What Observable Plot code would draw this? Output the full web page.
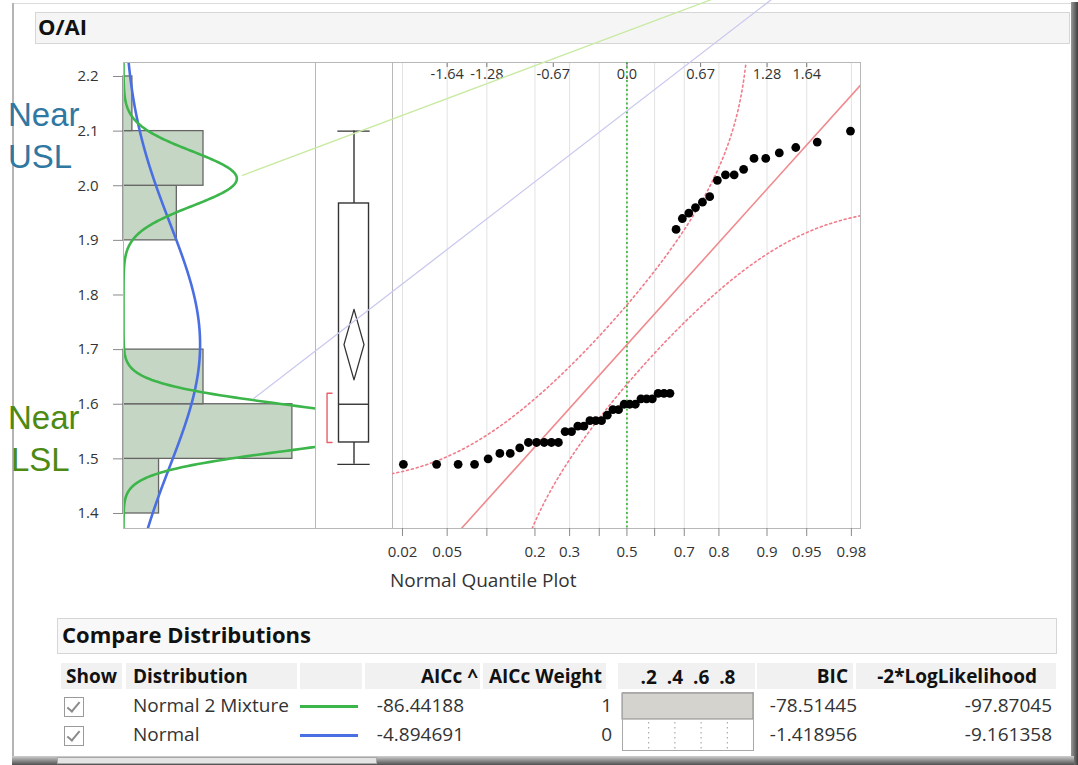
<!DOCTYPE html>
<html><head><meta charset="utf-8">
<script src="https://cdn.jsdelivr.net/npm/d3@7"></script>
<script src="https://cdn.jsdelivr.net/npm/@observablehq/plot@0.6"></script>
<style>
html,body{margin:0;padding:0;background:#fff;}
body{width:1078px;height:765px;position:relative;overflow:hidden;font-family:"Open Sans",sans-serif;color:#333;}
.abs{position:absolute;}
.plotwrap svg{max-width:none;}
</style></head><body>
<script>
// ---------------- data ----------------
const values = [1.49,1.49,1.49,1.49,1.50,1.51,1.51,1.52,1.53,1.53,1.53,1.53,1.53,1.55,1.55,1.56,1.56,1.57,1.57,1.57,1.58,1.59,1.59,1.60,1.60,1.60,1.61,1.61,1.61,1.62,1.62,1.62,
                1.92,1.94,1.95,1.96,1.97,1.98,2.01,2.02,2.02,2.03,2.05,2.05,2.06,2.07,2.08,2.10];
const binEdges = [1.4,1.5,1.6,1.7,1.8,1.9,2.0,2.1,2.2];
const yTicks = [1.4,1.5,1.6,1.7,1.8,1.9,2.0,2.1,2.2];
const probTicks  = [0.02,0.05,0.1,0.2,0.3,0.4,0.5,0.6,0.7,0.8,0.9,0.95,0.98];
const probLabels = ["0.02","0.05","","0.2","0.3","","0.5","","0.7","0.8","0.9","0.95","0.98"];
const zTicks  = [-1.645,-1.282,-0.674,0,0.674,1.282,1.645];
const zLabels = ["-1.64","-1.28","-0.67","0.0","0.67","1.28","1.64"];
const mixW = [0.667,0.333], mixMu = [1.557,2.013], mixSd = [0.041,0.05];
const bandD = 0.128;      // Lilliefors band half-width (probability)
const tCrit = 2.012;      // t(0.975, 47)
const distNames = ["Normal 2 Mixture","Normal"];
const distColors = ["#3cb54a","#4a6fe3"];
const aicc = [-86.44188,-4.894691];
const aiccWeight = [1,0];
const bic = [-78.51445,-1.418956];
const negLL = [-97.87045,-9.161358];
const weightTicks = [0.2,0.4,0.6,0.8];
const leaderGreen  = [{z:-3.518,v:2.019},{z:0.828,v:2.345}];
const leaderPurple = [{z:-3.415,v:1.6105},{z:1.349,v:2.345}];

// ---------------- helpers ----------------
const FONT = "'Open Sans', sans-serif";
function qnorm(p){
 const a=[-3.969683028665376e+01,2.209460984245205e+02,-2.759285104469687e+02,1.383577518672690e+02,-3.066479806614716e+01,2.506628277459239e+00];
 const b=[-5.447609879822406e+01,1.615858368580409e+02,-1.556989798598866e+02,6.680131188771972e+01,-1.328068155288572e+01];
 const c=[-7.784894002430293e-03,-3.223964580411365e-01,-2.400758277161838e+00,-2.549732539343734e+00,4.374664141464968e+00,2.938163982698783e+00];
 const d=[7.784695709041462e-03,3.224671290700398e-01,2.445134137142996e+00,3.754408661907416e+00];
 const pl=0.02425, ph=1-pl; let q,r;
 if(p<pl){q=Math.sqrt(-2*Math.log(p));return (((((c[0]*q+c[1])*q+c[2])*q+c[3])*q+c[4])*q+c[5])/((((d[0]*q+d[1])*q+d[2])*q+d[3])*q+1);}
 if(p>ph){q=Math.sqrt(-2*Math.log(1-p));return -(((((c[0]*q+c[1])*q+c[2])*q+c[3])*q+c[4])*q+c[5])/((((d[0]*q+d[1])*q+d[2])*q+d[3])*q+1);}
 q=p-0.5;r=q*q;return (((((a[0]*r+a[1])*r+a[2])*r+a[3])*r+a[4])*r+a[5])*q/(((((b[0]*r+b[1])*r+b[2])*r+b[3])*r+b[4])*r+1);
}
function pnorm(x){
 const t=1/(1+0.3275911*Math.abs(x)/Math.SQRT2);
 const y=1-(((((1.061405429*t-1.453152027)*t)+1.421413741)*t-0.284496736)*t+0.254829592)*t*Math.exp(-x*x/2);
 return x>=0?(1+y)/2:(1-y)/2;
}
const dnorm = (x,m,s) => Math.exp(-0.5*((x-m)/s)**2)/(s*Math.sqrt(2*Math.PI));

function addDiv(css, txt){
  const d=document.createElement("div"); d.className="abs"; d.style.cssText+=css;
  if(txt!==undefined) d.textContent=txt; document.body.appendChild(d); return d;
}
function addText(txt,{x,y,size=19,bold=false,align="left",color="#333",family=FONT}){
  let css=`top:${(y-0.531*size).toFixed(1)}px;font:${bold?700:400} ${size}px/1 ${family};color:${color};white-space:nowrap;`;
  css += align==="right" ? `right:${1078-x}px;` : `left:${x}px;`;
  return addDiv(css, txt);
}
function addPlot(svg,left,top,w){
  const wrap=addDiv(`left:${left}px;top:${top}px;width:${w}px;`); wrap.classList.add("plotwrap");
  wrap.appendChild(svg);
}

// ---------------- statistics ----------------
const n = values.length;
const sorted = values.slice().sort(d3.ascending);
const mu = d3.mean(values), sd = d3.deviation(values);
const binW = binEdges[1]-binEdges[0];
function q(p){ const pos=(n+1)*p; const lo=Math.floor(pos); const f=pos-lo;
  return sorted[lo-1] + f*(sorted[lo]-sorted[lo-1]); }
let shortLo=0, best=Infinity; const h=Math.floor(n/2);
for(let i=0;i+h-1<n;i++){ const r=sorted[i+h-1]-sorted[i]; if(r<best-1e-9){best=r;shortLo=i;} }
const stats = {lo:d3.min(values), hi:d3.max(values), q1:q(0.25), med:q(0.5), q3:q(0.75),
  mean:mu, ci:tCrit*sd/Math.sqrt(n), sLo:sorted[shortLo], sHi:sorted[shortLo+h-1]};
const bins = d3.bin().domain([binEdges[0],binEdges[binEdges.length-1]]).thresholds(binEdges.slice(1,-1))(values)
  .filter(b=>b.length>0);

const Y0 = 1.37254, Y1 = 2.2256;
const ygrid = d3.range(Y0, Y1+0.0005, 0.002);
const normalCurve = ygrid.map(v => ({v, c: n*binW*dnorm(v,mu,sd)}));
const mixCurve = ygrid.map(v => ({v, c: n*binW*(mixW[0]*dnorm(v,mixMu[0],mixSd[0])+mixW[1]*dnorm(v,mixMu[1],mixSd[1]))}));
const qqPoints = sorted.map((v,i)=>({v, z:qnorm((i+1)/(n+1))}));
const refLine = [-2.4,2.4].map(z=>({z, v:mu+sd*z}));
const bandL=[], bandR=[];
for(const v of ygrid){ const P=pnorm((v-mu)/sd);
  if(P-bandD>1e-5){const z=qnorm(P-bandD); if(z>-3.2) bandL.push({v,z});}
  if(P+bandD<1-1e-5){const z=qnorm(P+bandD); if(z<3.2) bandR.push({v,z});} }
const probZ = probTicks.map(qnorm);
const probLabelByZ = new Map(probZ.map((z,i)=>[z,probLabels[i]]));

// ---------------- window chrome ----------------
addDiv("left:12px;top:3px;width:1062px;height:1px;background:#dcdcdc;");
addDiv("left:12px;top:3px;width:2px;height:756px;background:#b4b4b4;");
addDiv("left:1071px;top:2px;width:7px;height:763px;background:linear-gradient(to right,#9a9a9a,#3e3e3e);");
addDiv("left:12px;top:756px;width:1062px;height:9px;background:linear-gradient(to bottom,#d0d0d0,#9c9c9c 40%,#505050);");
addDiv("left:57px;top:757px;width:318px;height:5px;background:#e4e4e4;border:1px solid #a8a8a8;");
addDiv("left:35px;top:12px;width:1033px;height:30px;background:#f5f5f5;border:1px solid #d6d6d6;");
addText("O/AI",{x:38,y:27,size:22,bold:true,color:"#111"});

// ---------------- histogram panel ----------------
const hist = Plot.plot({
  width:315, height:600, marginLeft:123, marginRight:0, marginTop:62, marginBottom:72,
  x:{domain:[0,21.6], axis:null},
  y:{domain:[Y0,Y1]},
  style:{overflow:"visible", background:"transparent", fontFamily:FONT},
  marks:[
    Plot.rectX(bins, {x1:()=>0, x2:d=>d.length, y1:"x0", y2:"x1", fill:"#c6d6c4", stroke:"#666", strokeWidth:1.3}),
    Plot.line(normalCurve,{x:"c", y:"v", stroke:distColors[1], strokeWidth:2.6, clip:true}),
    Plot.line(mixCurve,{x:"c", y:"v", stroke:distColors[0], strokeWidth:2.6, clip:true}),
    Plot.frame({stroke:"#b8b8b8"}),
    Plot.axisY(yTicks,{anchor:"left", label:null, tickSize:10, tickPadding:15, tickFormat:d3.format(".1f"), fontSize:15, stroke:"#8a8a8a", fill:"#333"})
  ]
});
addPlot(hist,0,0,315);

// ---------------- box plot panel ----------------
const diamond = [{x:0,y:stats.mean+stats.ci},{x:0.26,y:stats.mean},{x:0,y:stats.mean-stats.ci},{x:-0.26,y:stats.mean},{x:0,y:stats.mean+stats.ci}];
const bracket = [{x:-0.57,y:stats.sHi},{x:-0.70,y:stats.sHi},{x:-0.70,y:stats.sLo},{x:-0.57,y:stats.sLo}];
const box = Plot.plot({
  width:77, height:600, marginLeft:0, marginRight:0, marginTop:62, marginBottom:72,
  x:{domain:[-1,1], axis:null}, y:{domain:[Y0,Y1], axis:null},
  style:{overflow:"visible", background:"transparent"},
  marks:[
    Plot.frame({stroke:"#b8b8b8"}),
    Plot.ruleX([stats],{x:()=>0, y1:"lo", y2:"q1", stroke:"#333", strokeWidth:1.4}),
    Plot.ruleX([stats],{x:()=>0, y1:"q3", y2:"hi", stroke:"#333", strokeWidth:1.4}),
    Plot.ruleY([stats.lo, stats.hi],{y:d=>d, x1:()=>-0.42, x2:()=>0.42, stroke:"#333", strokeWidth:1.4}),
    Plot.rect([stats],{x1:()=>-0.39, x2:()=>0.39, y1:"q1", y2:"q3", fill:"none", stroke:"#333", strokeWidth:1.4}),
    Plot.ruleY([stats],{y:"med", x1:()=>-0.39, x2:()=>0.39, stroke:"#333", strokeWidth:1.4}),
    Plot.line(diamond,{x:"x", y:"y", stroke:"#333", strokeWidth:1.3}),
    Plot.line(bracket,{x:"x", y:"y", stroke:"#e8606a", strokeWidth:1.4})
  ]
});
addPlot(box,315,0,77);

// ---------------- normal quantile plot ----------------
const qq = Plot.plot({
  width:686, height:600, marginLeft:0, marginRight:218, marginTop:62, marginBottom:72,
  x:{domain:[-2.145,2.137]},
  y:{domain:[Y0,Y1], axis:null},
  style:{overflow:"visible", background:"transparent", fontFamily:FONT},
  marks:[
    Plot.gridX(probZ,{stroke:"#e2e2e2", strokeOpacity:1}),
    Plot.frame({stroke:"#b8b8b8"}),
    Plot.ruleX([0],{stroke:"#2fb52f", strokeDasharray:"2,2.5", strokeWidth:1.6}),
    Plot.line(refLine,{x:"z", y:"v", stroke:"#f08a8e", strokeWidth:1.6, clip:true}),
    Plot.line(bandL,{x:"z", y:"v", stroke:"#f07c8a", strokeWidth:1.6, strokeDasharray:"2,3", clip:true}),
    Plot.line(bandR,{x:"z", y:"v", stroke:"#f07c8a", strokeWidth:1.6, strokeDasharray:"2,3", clip:true}),
    Plot.dot(qqPoints,{x:"z", y:"v", r:4.4, fill:"#000"}),
    Plot.axisX(probZ,{anchor:"bottom", label:null, tickSize:8, tickPadding:10, tickFormat:z=>probLabelByZ.get(z), fontSize:15, stroke:"#8a8a8a", fill:"#333"}),
    Plot.axisX(zTicks,{anchor:"top", label:null, tickSize:-4, tickFormat:()=>"", stroke:"#777"}),
    Plot.text(zTicks,{x:d=>d, frameAnchor:"top", dy:12, lineAnchor:"middle", text:(d,i)=>zLabels[i], fontSize:14.5, fill:"#333"}),
    Plot.line(leaderGreen,{x:"z", y:"v", stroke:"#c9eaa2", strokeWidth:1.3}),
    Plot.line(leaderPurple,{x:"z", y:"v", stroke:"#c9c9ef", strokeWidth:1.3})
  ]
});
addPlot(qq,392,0,686);
addText("Normal Quantile Plot",{x:390,y:581,size:19,color:"#333"});

// ---------------- annotations ----------------
const annFont = "33px/42px 'Liberation Sans',Arial,sans-serif";
addDiv(`left:8px;top:94px;font:${annFont};color:#2f78a2;`, "Near");
addDiv(`left:8px;top:136px;font:${annFont};color:#2f78a2;`, "USL");
addDiv(`left:8px;top:397px;font:${annFont};color:#4c8a12;`, "Near");
addDiv(`left:11px;top:439px;font:${annFont};color:#4c8a12;`, "LSL");

// ---------------- compare distributions ----------------
addDiv("left:57px;top:618px;width:998px;height:34px;background:#f8f8f8;border:1px solid #d6d6d6;");
addText("Compare Distributions",{x:62,y:635,size:22,bold:true,color:"#111"});
const headerCells = [[61,122],[126,297],[300,362],[365,480],[483,606],[618,755],[757,853],[856,1056]];
for(const [a,b] of headerCells) addDiv(`left:${a}px;top:663px;width:${b-a}px;height:26px;background:#f1f1f1;`);
addText("Show",{x:66,y:677,bold:true,color:"#111"});
addText("Distribution",{x:133,y:677,bold:true,color:"#111"});
addText("AICc ^",{x:478,y:677,bold:true,align:"right",color:"#111"});
addText("AICc Weight",{x:602,y:677,bold:true,align:"right",color:"#111"});
addText("BIC",{x:848,y:677,bold:true,align:"right",color:"#111"});
addText("-2*LogLikelihood",{x:1037,y:677,bold:true,align:"right",color:"#111"});
const rowY = [706,735];
distNames.forEach((name,i)=>{
  const y=rowY[i];
  const cb=addDiv(`left:64px;top:${y-9}px;width:18px;height:18px;border:1.5px solid #9a9a9a;background:#fff;`);
  const ck=document.createElement("div");
  ck.style.cssText="position:absolute;left:5px;top:1px;width:5px;height:11px;border-right:2px solid #8a8a8a;border-bottom:2px solid #8a8a8a;transform:rotate(40deg);";
  cb.appendChild(ck);
  addText(name,{x:133,y});
  addDiv(`left:300px;top:${y-1.5}px;width:58px;height:3px;background:${distColors[i]};`);
  addText(String(aicc[i]),{x:464,y,align:"right"});
  addText(String(aiccWeight[i]),{x:612,y,align:"right"});
  addText(String(bic[i]),{x:857,y,align:"right"});
  addText(String(negLL[i]),{x:1052,y,align:"right"});
});
const weightRows = distNames.map((name,i)=>({name, w:aiccWeight[i]}));
const wplot = Plot.plot({
  width:131, height:87, marginTop:29, marginBottom:0, marginLeft:0, marginRight:0,
  x:{domain:[0,1], axis:null}, y:{domain:distNames, axis:null, paddingInner:0.1, paddingOuter:0.05},
  style:{overflow:"visible", background:"transparent", fontFamily:FONT},
  marks:[
    Plot.gridX(weightTicks,{stroke:"#9a9a9a", strokeOpacity:1, strokeDasharray:"1.5,3.5"}),
    Plot.barX(weightRows,{x:"w", y:"name", fill:"#d5d3cd", stroke:"#8a8a8a"}),
    Plot.frame({stroke:"#a8a8a8"}),
    Plot.text(weightTicks,{x:d=>d, frameAnchor:"top", dy:-15, lineAnchor:"middle", text:d=>d3.format(".1f")(d).slice(1), fontSize:19, fontWeight:"bold", fill:"#111"})
  ]
});
addPlot(wplot,622,663,131);
</script>
</body></html>
